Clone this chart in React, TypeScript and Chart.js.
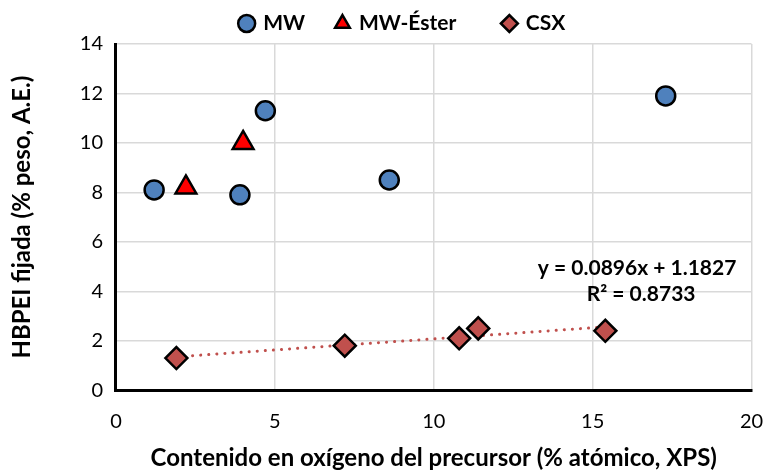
import React, { useEffect, useRef } from "react";
import { Chart, registerables } from "chart.js";

Chart.register(...registerables);

const mwX = [1.2, 3.9, 4.7, 8.6, 17.3];
const mwY = [8.1, 7.9, 11.3, 8.5, 11.9];
const esterX = [2.2, 4.0];
const esterY = [8.2, 10.0];
const csxX = [1.9, 7.2, 10.8, 11.4, 15.4];
const csxY = [1.3, 1.8, 2.1, 2.5, 2.4];
const trendX = [1.9, 15.4];
const trendY = [1.35, 2.56];
const eqLines = ["y = 0.0896x + 1.1827", "R² = 0.8733"];
const FONT = "Lato, 'Open Sans', sans-serif";

const pts = (xs: number[], ys: number[]) => xs.map((x, i) => ({ x, y: ys[i] }));

const eqPlugin = {
  id: "eq",
  afterDatasetsDraw(chart: any) {
    const { ctx, scales } = chart;
    ctx.save();
    ctx.font = `bold 21px ${FONT}`;
    ctx.fillStyle = "#000";
    ctx.textAlign = "center";
    ctx.textBaseline = "middle";
    const xc = scales.x.getPixelForValue(16.4);
    ctx.fillText(eqLines[0], xc, scales.y.getPixelForValue(4.95));
    ctx.fillText(eqLines[1], xc + 4, scales.y.getPixelForValue(3.9));
    ctx.restore();
  },
};

const legendShift = {
  id: "legendShift",
  afterUpdate(chart: any) {
    if (chart.legend) {
      chart.legend.left += 18;
      chart.legend.right += 18;
    }
  },
};

const legendGaps = ["\u2003\u2009", "\u2003\u2003\u2009", ""];

export default function App() {
  const ref = useRef<HTMLCanvasElement>(null);
  useEffect(() => {
    document.body.style.margin = "0";
    const chart = new Chart(ref.current!, {
      type: "scatter",
      data: {
        datasets: [
          {
            label: "MW",
            data: pts(mwX, mwY),
            pointStyle: "circle",
            pointRadius: 9.5,
            backgroundColor: "#4F81BD",
            borderColor: "#000",
            borderWidth: 2.5,
          },
          {
            label: "MW-Éster",
            data: pts(esterX, esterY),
            pointStyle: "triangle",
            pointRadius: 12,
            backgroundColor: "#FF0000",
            borderColor: "#000",
            borderWidth: 2.5,
          },
          {
            label: "CSX",
            data: pts(csxX, csxY),
            pointStyle: "rectRot",
            pointRadius: 11,
            backgroundColor: "#C0504D",
            borderColor: "#000",
            borderWidth: 2.5,
            order: 1,
          },
          {
            label: "trend",
            type: "line",
            data: pts(trendX, trendY),
            borderColor: "#C0504D",
            borderWidth: 3,
            borderDash: [0.1, 8],
            borderCapStyle: "round",
            pointRadius: 0,
            order: 5,
          } as any,
        ],
      },
      options: {
        animation: false,
        responsive: false,
        layout: { padding: { left: 8, right: 4, top: 0, bottom: 0 } },
        plugins: {
          legend: {
            position: "top",
            labels: {
              filter: (item: any) => item.text !== "trend",
              generateLabels: (chart: any) => {
                const items = Chart.defaults.plugins.legend.labels.generateLabels(chart);
                return items.map((it: any, i: number) =>
                  i < 3 ? { ...it, text: it.text + legendGaps[i] } : it
                );
              },
              usePointStyle: true,
              boxWidth: 12,
              boxHeight: 12,
              padding: 13,
              color: "#000",
              font: { family: FONT, size: 21, weight: "bold" },
            },
          },
          tooltip: { enabled: false },
        },
        scales: {
          x: {
            type: "linear",
            min: 0,
            max: 20,
            afterFit: (scale: any) => {
              scale.paddingRight = 4;
            },
            ticks: { stepSize: 5, color: "#000", font: { family: FONT, size: 20 }, padding: 19 },
            grid: { color: "#D9D9D9", lineWidth: 1.5, drawTicks: false },
            border: { color: "#000", width: 3 },
            title: {
              display: true,
              text: "Contenido en oxígeno del precursor (% atómico, XPS)",
              color: "#000",
              font: { family: FONT, size: 24, weight: "bold" },
              padding: { top: -8, bottom: -3 },
            },
          },
          y: {
            min: 0,
            max: 14,
            ticks: { stepSize: 2, color: "#000", font: { family: FONT, size: 20 }, padding: 13 },
            grid: { color: "#D9D9D9", lineWidth: 1.5, drawTicks: false },
            border: { color: "#000", width: 3 },
            title: {
              display: true,
              text: "HBPEI fijada (% peso, A.E.)",
              color: "#000",
              font: { family: FONT, size: 24, weight: "bold" },
              padding: { top: 0, bottom: 30 },
            },
          },
        },
      } as any,
      plugins: [eqPlugin, legendShift],
    });
    return () => chart.destroy();
  }, []);
  return (
    <div style={{ width: 766, height: 470, background: "#fff" }}>
      <canvas ref={ref} width={766} height={470} />
    </div>
  );
}
